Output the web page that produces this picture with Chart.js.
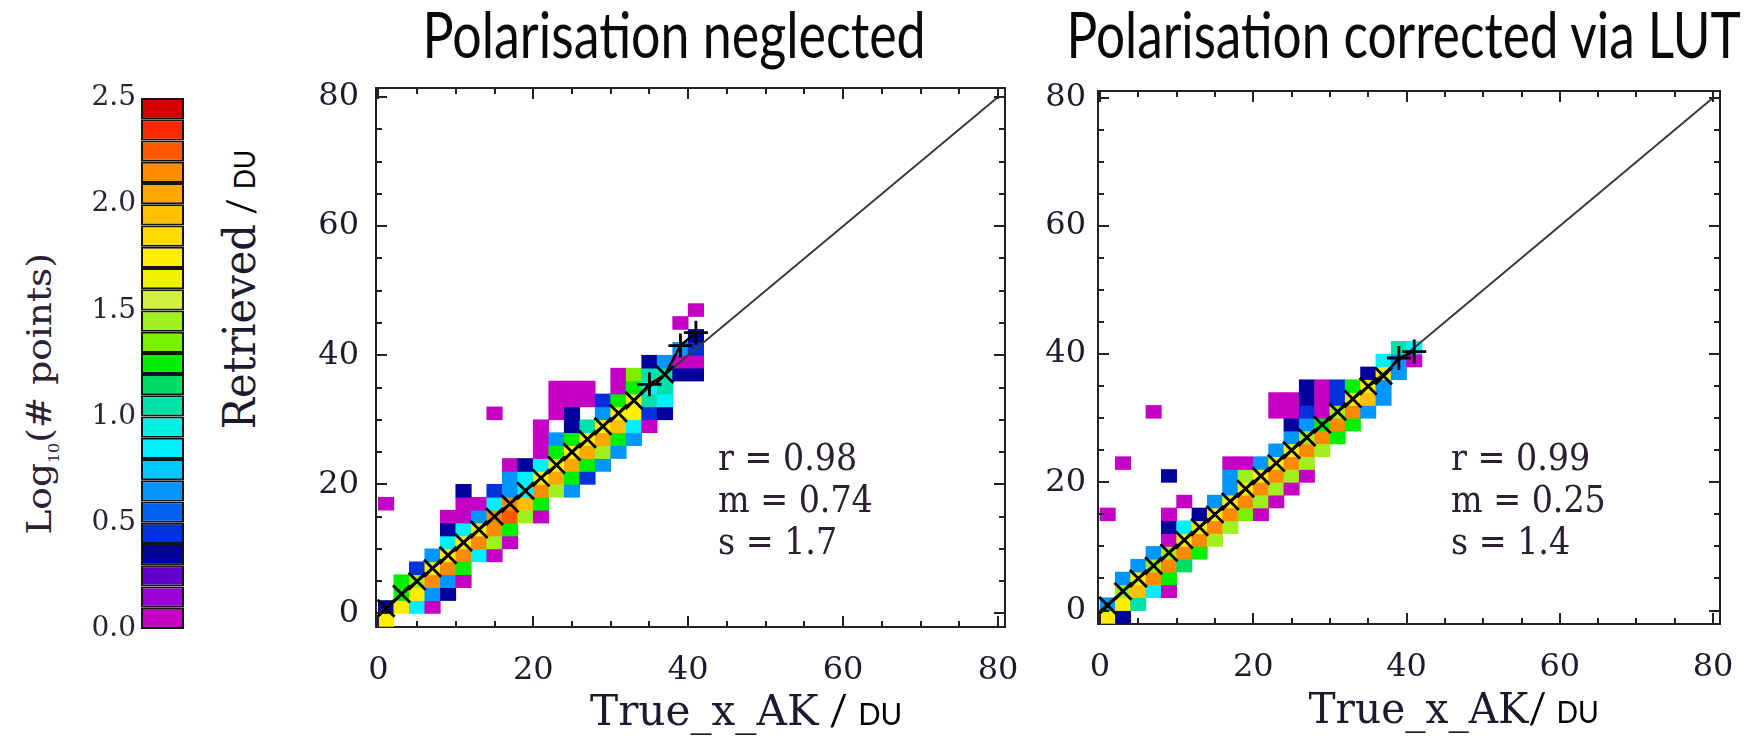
<!DOCTYPE html>
<html><head><meta charset="utf-8">
<script src="https://cdn.jsdelivr.net/npm/chart.js@4.4.1/dist/chart.umd.min.js"></script>
<style>
html,body{margin:0;padding:0;background:#fff;}
body{width:1746px;height:740px;position:relative;overflow:hidden;}
canvas{position:absolute;}
.t{position:absolute;white-space:nowrap;line-height:1;}
</style></head><body>
<script>
// ---------------- DATA ----------------
const colorLevels = [0.0,0.1,0.2,0.3,0.4,0.5,0.6,0.7,0.8,0.9,1.0,1.1,1.2,1.3,1.4,1.5,1.6,1.7,1.8,1.9,2.0,2.1,2.2,2.3,2.4];
const colorStep = 0.1;
const colorbarTicks = [0.0,0.5,1.0,1.5,2.0,2.5];
const levelColors = ['#c400c4','#9b00d6','#6000c8','#00009c','#0032dc','#0064f0','#0096ff','#00c8ff','#00f0ff','#00f0e0',
  '#00e0a8','#00dc64','#00f000','#78f000','#a0f020','#d0f040','#f0f000','#ffee00','#ffdc00','#ffc000',
  '#ffa800','#ff8c00','#ff5a00','#ff2800','#d20000'];
const axisTicks = [0,20,40,60,80];
const minorTicks = [0,5,10,15,20,25,30,35,40,45,50,55,60,65,70,75,80];
const binSize = 2;
const oneToOne = [0,80];
// cells: [true_x lower bin edge (DU), retrieved lower bin edge (DU), colour level index]
const leftCells = [
 [0,-2,17],
 [0,0,3],[2,0,17],[4,0,8],[6,0,0],
 [2,2,12],[4,2,17],[6,2,6],[8,2,3],
 [2,4,12],[4,4,14],[6,4,21],[8,4,6],[10,4,0],
 [4,6,4],[6,6,17],[8,6,21],[10,6,12],
 [6,8,6],[8,8,17],[10,8,21],[12,8,8],[14,8,0],
 [8,10,8],[10,10,17],[12,10,21],[14,10,14],[16,10,0],
 [8,12,3],[10,12,8],[12,12,17],[14,12,21],[16,12,12],
 [8,14,0],[10,14,0],[12,14,6],[14,14,21],[16,14,22],[18,14,14],[20,14,0],
 [0,16,0],[10,16,0],[12,16,0],[14,16,8],[16,16,21],[18,16,19],[20,16,12],
 [10,18,3],[14,18,4],[16,18,6],[18,18,8],[20,18,21],[22,18,14],[24,18,6],
 [16,20,6],[18,20,8],[20,20,17],[22,20,20],[24,20,12],[26,20,4],
 [16,22,0],[18,22,3],[20,22,8],[22,22,17],[24,22,20],[26,22,12],[28,22,6],
 [20,24,0],[22,24,12],[24,24,17],[26,24,20],[28,24,14],[30,24,6],
 [20,26,0],[22,26,6],[24,26,12],[26,26,17],[28,26,20],[30,26,12],[32,26,6],
 [20,28,0],[24,28,3],[26,28,10],[28,28,17],[30,28,19],[32,28,8],[34,28,0],
 [14,30,0],[22,30,0],[24,30,3],[28,30,6],[30,30,17],[32,30,17],[34,30,4],[36,30,3],
 [22,32,0],[24,32,0],[26,32,0],[28,32,4],[30,32,12],[32,32,17],[34,32,10],[36,32,8],
 [22,34,0],[24,34,0],[26,34,0],[30,34,0],[32,34,12],[34,34,8],[36,34,10],
 [30,36,0],[32,36,13],[34,36,10],[36,36,10],[38,36,3],[40,36,3],
 [34,38,3],[36,38,6],[38,38,0],[40,38,0],
 [38,40,6],[40,40,4],
 [40,42,3],
 [38,44,0],
 [40,46,0]
];
const rightCells = [
 [0,-2,17],[2,-2,3],
 [0,0,6],[2,0,17],[4,0,10],
 [2,2,14],[4,2,19],[6,2,8],[8,2,0],
 [2,4,6],[4,4,17],[6,4,21],[8,4,12],
 [4,6,6],[6,6,14],[8,6,21],[10,6,11],
 [6,8,6],[8,8,14],[10,8,21],[12,8,12],
 [8,10,0],[10,10,17],[12,10,21],[14,10,14],
 [8,12,3],[10,12,8],[12,12,17],[14,12,21],[16,12,14],
 [0,14,0],[8,14,0],[12,14,3],[14,14,17],[16,14,21],[18,14,13],[20,14,0],
 [10,16,0],[14,16,6],[16,16,17],[18,16,21],[20,16,14],[22,16,0],
 [16,18,6],[18,18,17],[20,18,21],[22,18,14],[24,18,0],
 [8,20,3],[16,20,6],[18,20,14],[20,20,17],[22,20,21],[24,20,14],[26,20,0],
 [2,22,0],[16,22,0],[18,22,0],[20,22,6],[22,22,17],[24,22,21],[26,22,14],
 [22,24,6],[24,24,17],[26,24,21],[28,24,14],
 [24,26,6],[26,26,14],[28,26,21],[30,26,12],
 [24,28,3],[26,28,6],[28,28,12],[30,28,21],[32,28,12],
 [6,30,0],[22,30,0],[24,30,0],[26,30,4],[28,30,0],[30,30,14],[32,30,21],[34,30,6],
 [22,32,0],[24,32,0],[26,32,3],[28,32,0],[30,32,4],[32,32,17],[34,32,19],[36,32,6],
 [26,34,3],[28,34,0],[30,34,4],[32,34,12],[34,34,17],[36,34,6],
 [34,36,3],[36,36,17],[38,36,6],
 [36,38,8],[38,38,6],[40,38,0],
 [38,40,10],[40,40,8]
];
// binned mean retrieved vs true
const leftMeanX = [1,3,5,7,9,11,13,15,17,19,21,23,25,27,29,31,33,35,37,39,41];
const leftMeanY = [0.8,3,5,7,9,11,13,15,17,19,21,23,25,27,29,31,33,35.5,37,41.5,43.5];
const leftMeanMarker = ['crossRot','crossRot','crossRot','crossRot','crossRot','crossRot','crossRot','crossRot','crossRot','crossRot','crossRot','crossRot','crossRot','crossRot','crossRot','crossRot','crossRot','cross','crossRot','cross','cross'];
const rightMeanX = [1,3,5,7,9,11,13,15,17,19,21,23,25,27,29,31,33,35,37,39,41];
const rightMeanY = [0.8,3,5,7,9,11,13,15,17,19,21,23,25,27,29,31,33,35,36.6,39.4,40.4];
const rightMeanMarker = ['crossRot','crossRot','crossRot','crossRot','crossRot','crossRot','crossRot','crossRot','crossRot','crossRot','crossRot','crossRot','crossRot','crossRot','crossRot','crossRot','crossRot','crossRot','crossRot','cross','cross'];
const leftStats = ['r = 0.98','m = 0.74','s = 1.7'];
const rightStats = ['r = 0.99','m = 0.25','s = 1.4'];
const titles = ['Polarisation neglected','Polarisation corrected via LUT'];

// ---------------- LAYOUT / STYLE ----------------
const INK = '#1e1a2e';
const FRAME = '#222';
const tickFont = {family:'DejaVu Serif', size:32};

function ticksFrom(vals){ return s => { s.ticks = vals.map(v => ({value:v})); }; }
function fitTo(key, size){
  return s => {
    if (key==='x') s.height = size; else s.width = size;
    s.paddingLeft = 0; s.paddingRight = 0; s.paddingTop = 0; s.paddingBottom = 0;
  };
}

// axis carrying tick labels and the frame line
function labelAxis(key, pos, range, vals, size, pad){
  return {type:'linear', axis:key, position:pos, min:range[0], max:range[1], weight:1, offset:false,
    afterBuildTicks: ticksFrom(vals), afterFit: fitTo(key, size),
    ticks:{display:true, font:tickFont, color:INK, padding:pad, autoSkip:false, maxRotation:0, minRotation:0,
      callback: v => String(v)},
    grid:{display:false, drawTicks:false, offset:false},
    border:{display:true, color:FRAME, width:2}};
}
// frame line only (top / right)
function frameAxis(key, pos, range){
  return {type:'linear', axis:key, position:pos, min:range[0], max:range[1], weight:0, offset:false,
    afterFit: fitTo(key, 0), ticks:{display:false}, grid:{display:false, drawTicks:false, offset:false},
    border:{display:true, color:FRAME, width:2}};
}
// inward tick marks on both opposite sides, drawn as dashed grid lines
function tickAxis(key, range, vals, len, span){
  return {type:'linear', axis:key, position: key==='x' ? 'bottom' : 'left', min:range[0], max:range[1],
    weight:0, offset:false, afterBuildTicks: ticksFrom(vals), afterFit: fitTo(key, 0),
    ticks:{display:false},
    grid:{display:true, drawOnChartArea:true, drawTicks:false, color:FRAME, lineWidth:2, offset:false, z:1},
    border:{display:false, dash:[len, span - 2*len, len, 5000], dashOffset:0}};
}

function makePlot(box, area, xr, yr, cells, mx, my, mk, yPad){
  const cv = document.createElement('canvas');
  cv.width = box.w; cv.height = box.h;
  cv.style.left = box.x + 'px'; cv.style.top = box.y + 'px';
  document.body.appendChild(cv);
  const leftW = area.l - box.x, bottomH = box.y + box.h - area.b;
  const W = area.r - area.l, H = area.b - area.t;
  new Chart(cv, {
    type:'bar',
    data:{datasets:[
      {type:'line', data: mx.map((x,i)=>({x:x, y:my[i]})), borderColor:'#000', borderWidth:2.5,
       pointStyle: mk, pointRadius:12, pointBorderWidth:2.8, pointBorderColor:'#000',
       pointBackgroundColor:'rgba(0,0,0,0)', tension:0, order:1},
      {type:'line', data: oneToOne.map(v=>({x:v,y:v})), borderColor:'#3a3a3a', borderWidth:2,
       pointRadius:0, order:2},
      {type:'bar', data: cells.map(c=>({x:c[0]+binSize/2, y:[c[1], c[1]+binSize]})),
       backgroundColor: cells.map(c=>levelColors[c[2]]), borderWidth:0,
       barPercentage:1, categoryPercentage:1, order:3}
    ]},
    options:{
      responsive:false, animation:false, events:[], devicePixelRatio:1,
      plugins:{legend:{display:false}, tooltip:{enabled:false}},
      layout:{padding:{top: area.t - box.y, right: box.x + box.w - area.r, bottom:0, left:0}},
      scales:{
        x:  labelAxis('x','bottom',xr,axisTicks,bottomH,24),
        x2: frameAxis('x','top',xr),
        x3: tickAxis('x',xr,axisTicks,11,H),
        x4: tickAxis('x',xr,minorTicks,6,H),
        y:  labelAxis('y','left',yr,axisTicks,leftW,yPad),
        y2: frameAxis('y','right',yr),
        y3: tickAxis('y',yr,axisTicks,11,W),
        y4: tickAxis('y',yr,minorTicks,6,W)
      }
    }
  });
}

// colour bar
(function(){
  const box = {x:80, y:80, w:110, h:570}, area = {l:141, r:184, t:98, b:629};
  const cv = document.createElement('canvas');
  cv.width = box.w; cv.height = box.h;
  cv.style.left = box.x+'px'; cv.style.top = box.y+'px';
  document.body.appendChild(cv);
  new Chart(cv, {
    type:'bar',
    data:{labels:[''], datasets: colorLevels.map((lv,i)=>({
      data:[[lv, lv+colorStep]], backgroundColor:levelColors[i], borderColor:'#151515', borderWidth:2,
      borderSkipped:false, barPercentage:1, categoryPercentage:1, grouped:false, inflateAmount:0}))},
    options:{
      responsive:false, animation:false, events:[], devicePixelRatio:1,
      plugins:{legend:{display:false}, tooltip:{enabled:false}},
      layout:{padding:{top:area.t-box.y, right:box.x+box.w-area.r, bottom:box.y+box.h-area.b, left:0}},
      scales:{
        x:{display:false},
        y:{min:0, max:2.5, afterBuildTicks: ticksFrom(colorbarTicks),
           afterFit: s => { s.width = area.l - box.x; s.paddingTop = 0; s.paddingBottom = 0; },
           ticks:{font:{family:'DejaVu Serif', size:28}, color:'#2c2233', padding:5, callback:v=>v.toFixed(1)},
           grid:{display:false, drawTicks:false}, border:{display:false}}
      }
    }
  });
})();

makePlot({x:290,y:50,w:740,h:650}, {l:376,r:1005,t:88,b:627}, [-0.3,80.9], [-2.1,81.4], leftCells, leftMeanX, leftMeanY, leftMeanMarker, 17);
makePlot({x:1030,y:50,w:716,h:650}, {l:1098,r:1720,t:91,b:624}, [-0.26,80.9], [-2.1,81.05], rightCells, rightMeanX, rightMeanY, rightMeanMarker, 12);

// ---------------- TEXT ----------------
function addText(html, o){
  const el = document.createElement('div');
  el.className = 't';
  el.innerHTML = html;
  el.style.font = o.font; el.style.color = o.color || '#111';
  document.body.appendChild(el);
  const w = el.offsetWidth, h = el.offsetHeight;
  const sx = o.len ? o.len / w : (o.sx || 1);
  if (o.left !== undefined) {
    el.style.left = o.left + 'px';
    el.style.top = (o.cy - h/2) + 'px';
    el.style.transformOrigin = 'left center';
    el.style.transform = 'scaleX(' + sx + ')';
  } else {
    el.style.left = (o.cx - w/2) + 'px';
    el.style.top = (o.cy - h/2) + 'px';
    el.style.transformOrigin = 'center center';
    el.style.transform = (o.rot ? 'rotate(' + o.rot + 'deg) ' : '') + 'scaleX(' + sx + ')';
  }
}
const serif = "'DejaVu Serif'";
addText(titles[0], {font:"400 64px Lato", cx:674, cy:33, len:503, color:'#0a0a0a'});
addText(titles[1], {font:"400 64px Lato", cx:1403, cy:33, len:674, color:'#0a0a0a'});

const axT = (sep) => '<span style="font:43px ' + serif + ';color:' + INK + '">True_x_AK</span>' +
  '<span style="font:42px Lato;color:#000">' + sep + '/ </span><span style="font:30px Lato;color:#000">DU</span>';
addText(axT(' '), {font:"42px Lato", cx:746, cy:709, len:312});
addText(axT(''), {font:"42px Lato", cx:1453, cy:707, len:290});

addText('<span style="font:44px ' + serif + ';color:' + INK + '">Retrieved</span><span style="font:38px Lato;color:#000"> / </span><span style="font:28px Lato;color:#000">DU</span>',
  {font:"42px Lato", cx:240, cy:289, len:280, rot:-90});
addText('Log<sub style="font-size:14px">10</sub>(# points)', {font:"33px " + serif, cx:41, cy:394, len:282, rot:-90, color:'#2b2035'});

leftStats.forEach((s,i)=> addText(s, {font:"37px " + serif, left:718, cy:457 + i*42, sx:0.9, color:'#2a2030'}));
rightStats.forEach((s,i)=> addText(s, {font:"37px " + serif, left:1451, cy:457 + i*42, sx:0.9, color:'#2a2030'}));
</script>
</body></html>
